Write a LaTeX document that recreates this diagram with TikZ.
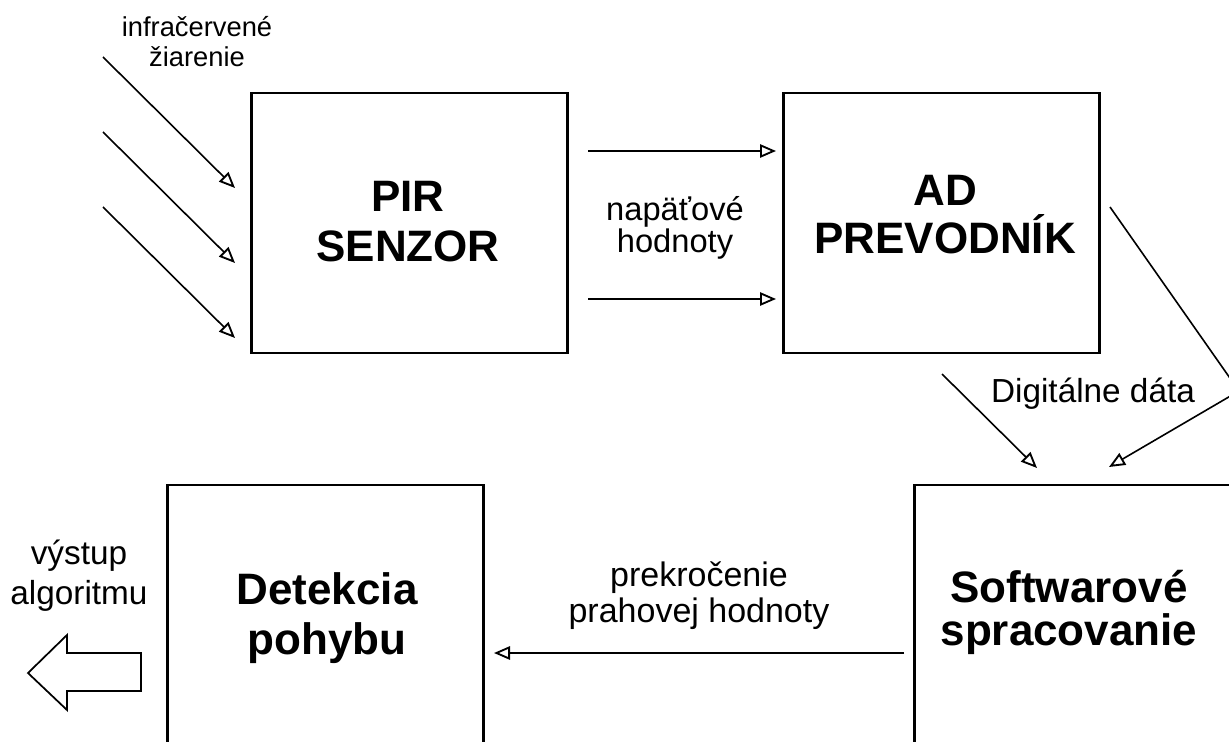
\documentclass[tikz,border=0pt]{standalone}
\usepackage{fontspec}
\setmainfont{Liberation Sans}
\usetikzlibrary{arrows.meta}
\begin{document}
\begin{tikzpicture}[x=0.75pt,y=-0.75pt,
  blk/.style={draw, line width=1.7pt, minimum width=237pt, minimum height=195pt, inner sep=0pt},
  big/.style={font=\fontsize{33}{37.5}\selectfont\bfseries, align=center, inner sep=0pt},
  lbl/.style={align=center, inner sep=0pt},
  arr/.style={line width=1.2pt, -{Triangle[open,length=12pt,width=10pt,line width=1.4pt]}}]
\useasboundingbox (0,0) rectangle (1229,742);
\clip (0,0) rectangle (1229,742);
% boxes
\node[blk] (pir) at (409.5,223) {};
\node[blk] (ad) at (941.5,223) {};
\node[blk] (det) at (325.5,615) {};
\node[blk] (sw) at (1072.5,615) {};
% box texts
\node[big] (pirt) at (408,222) {PIR\\SENZOR};
\node[big, font=\fontsize{33}{36}\selectfont\bfseries] (adt) at (945,215) {AD\\PREVODNÍK};
\node[big] (dett) at (327,618.5) {Detekcia\\pohybu};
\node[big, font=\fontsize{33}{32.5}\selectfont\bfseries] (swt) at (1069,612.5) {Softwarové\\spracovanie};
% labels
\node[lbl, font=\fontsize{20.5}{22.5}\selectfont] (irl) at (197,42) {infračervené\\žiarenie};
\node[lbl, font=\fontsize{24.5}{24}\selectfont] (nap) at (675,227.5) {napäťové\\hodnoty};
\node[lbl, font=\fontsize{25}{25}\selectfont, anchor=base] (dig) at (1093,402) {Digitálne dáta};
\node[lbl, font=\fontsize{25.5}{27}\selectfont] (prek) at (699,596) {prekročenie\\prahovej hodnoty};
\node[lbl, font=\fontsize{25}{30}\selectfont] (vys) at (79,576) {výstup\\algoritmu};
% infrared arrows
\coordinate (ir1s) at (103,57);  \coordinate (ir1e) at (235,188);
\coordinate (ir2s) at (103,132); \coordinate (ir2e) at (235,263);
\coordinate (ir3s) at (103,207); \coordinate (ir3e) at (235,338);
\draw[arr] (ir1s) -- (ir1e);
\draw[arr] (ir2s) -- (ir2e);
\draw[arr] (ir3s) -- (ir3e);
% voltage arrows
\coordinate (v1s) at (588,151); \coordinate (v1e) at (776,151);
\coordinate (v2s) at (588,299); \coordinate (v2e) at (776,299);
\draw[arr] (v1s) -- (v1e);
\draw[arr] (v2s) -- (v2e);
% digital data arrows
\coordinate (d1s) at (942,374); \coordinate (d1e) at (1037,468);
\draw[arr] (d1s) -- (d1e);
\coordinate (d2s) at (1110,207); \coordinate (d2m) at (1239,391); \coordinate (d2e) at (1109,467);
\draw[arr] (d2s) -- (d2m) -- (d2e);
% threshold arrow
\coordinate (ts) at (904,653); \coordinate (te) at (494,653);
\draw[arr] (ts) -- (te);
% output block arrow
\draw[line width=1.3pt, line join=miter] (28,673) -- (67,635) -- (67,653) -- (141,653) -- (141,691) -- (67,691) -- (67,710) -- cycle;
\end{tikzpicture}
\end{document}
